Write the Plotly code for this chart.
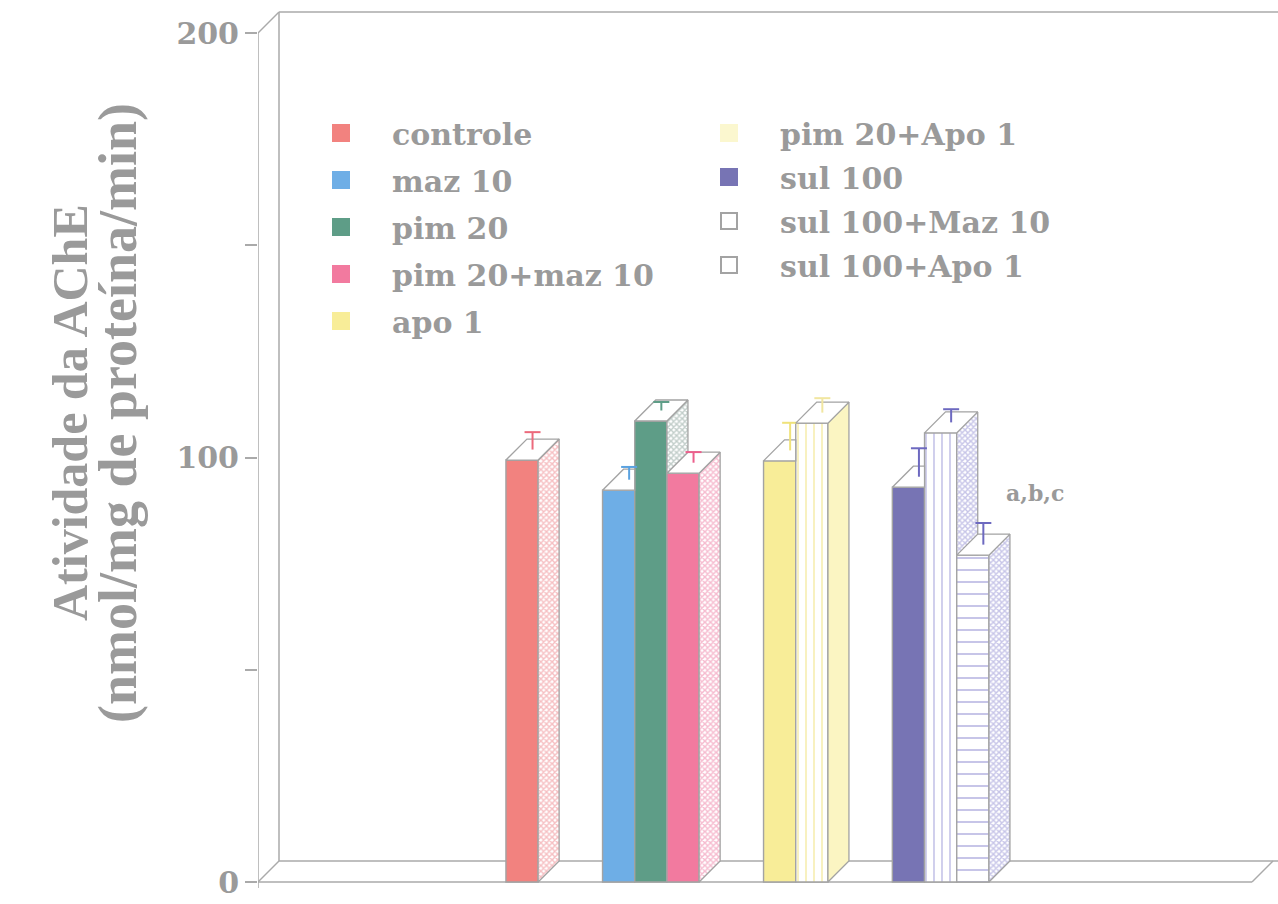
import plotly.graph_objects as go

# ---------------- data ----------------
groups = [
    ["controle"],
    ["maz 10", "pim 20", "pim 20+maz 10"],
    ["apo 1", "pim 20+Apo 1"],
    ["sul 100", "sul 100+Maz 10", "sul 100+Apo 1"],
]
values = [99.4, 92.3, 108.6, 96.3, 99.2, 108.1, 93.0, 105.8, 77.0]
errors = [4.1, 3.0, 2.0, 2.5, 6.5, 3.4, 6.7, 3.1, 5.1]
legend_col2 = ["pim 20+Apo 1", "sul 100", "sul 100+Maz 10", "sul 100+Apo 1"]
y_tick_vals = [0, 50, 100, 150, 200]
y_tick_text = ["0", "", "100", "", "200"]
y_title_1 = "Atividade da AChE"
y_title_2 = "(nmol/mg de proteína/min)"
note_text = "a,b,c"
note_bar = "sul 100+Apo 1"

# ---------------- styles ----------------
front_color = {
    "controle": "#f2827f", "maz 10": "#6eaee6", "pim 20": "#5e9d87",
    "pim 20+maz 10": "#f27a9f", "apo 1": "#f8ed98", "pim 20+Apo 1": "#ffffff",
    "sul 100": "#7774b4", "sul 100+Maz 10": "#ffffff", "sul 100+Apo 1": "#ffffff",
}
legend_color = dict(front_color)
legend_color.update({"pim 20+Apo 1": "#fbf7cf", "sul 100+Maz 10": "#ffffff", "sul 100+Apo 1": "#ffffff"})
front_pattern = {
    "pim 20+Apo 1": dict(shape="|", fgcolor="#efe070", bgcolor="#ffffff", size=8, solidity=0.22),
    "sul 100+Maz 10": dict(shape="|", fgcolor="#6d69c4", bgcolor="#ffffff", size=8, solidity=0.16),
    "sul 100+Apo 1": dict(shape="-", fgcolor="#6d69c4", bgcolor="#ffffff", size=12, solidity=0.13),
}
side_color = {
    "controle": "#ee7f86", "maz 10": "#7fb6e6", "pim 20": "#849c94",
    "pim 20+maz 10": "#ee78a0", "apo 1": "#f3e99a", "pim 20+Apo 1": None,
    "sul 100": "#8f8bd2", "sul 100+Maz 10": "#8f8bd2", "sul 100+Apo 1": "#8f8bd2",
}
err_color = {
    "controle": "#ec6a7c", "maz 10": "#5aa2e0", "pim 20": "#5e9d87",
    "pim 20+maz 10": "#ec5f8c", "apo 1": "#efe27a", "pim 20+Apo 1": "#f1e6a0",
    "sul 100": "#6d69c0", "sul 100+Maz 10": "#6d69c0", "sul 100+Apo 1": "#6d69c0",
}
EDGE = "#a3a3a3"
TEXT = "#9a9a9a"
FONT = "DejaVu Serif"
TITLE_FONT = "Liberation Serif"

# ---------------- geometry (layout constants) ----------------
W, H = 1278, 904
PLOT_L = 258
PX_PER_SLOT = 32.2
PX_PER_UNIT = 4.245
ZERO_PX = 882
DEPTH_PX = 21
GAP_SLOTS = 2
CAP_PX = 8
X0 = -8.2
X1 = X0 + (W - PLOT_L) / PX_PER_SLOT
Y0 = -(H - ZERO_PX) / PX_PER_UNIT
Y1 = ZERO_PX / PX_PER_UNIT
DX = DEPTH_PX / PX_PER_SLOT
DY = DEPTH_PX / PX_PER_UNIT
CAP = CAP_PX / PX_PER_SLOT
X_FLOOR_END = 22.67

names, slots, nxt = [], [], []
pos = 0
for g in groups:
    for k, n in enumerate(g):
        names.append(n)
        slots.append(pos)
        nxt.append(len(names) if k < len(g) - 1 else None)
        pos += 1
    pos += GAP_SLOTS

fig = go.Figure()

# front faces
for i, n in enumerate(names):
    marker = dict(color=front_color[n], line=dict(color=EDGE, width=1.4))
    if n in front_pattern:
        marker["pattern"] = front_pattern[n]
    fig.add_trace(go.Bar(
        x=[slots[i]], y=[values[i]], width=1.0, name=n, marker=marker,
        showlegend=False, hoverinfo="skip",
    ))

# side faces, top faces, error bars
for i, n in enumerate(names):
    v = values[i]
    xl, xr = slots[i] - 0.5, slots[i] + 0.5
    j = nxt[i]
    if j is not None and values[j] >= v:
        side = None
        top = ([xl, xr, xr, xl + DX, xl], [v, v, v + DY, v + DY, v])
    else:
        low = values[j] if j is not None else 0
        low_r = values[j] if j is not None else DY
        side = ([xr, xr, xr + DX, xr + DX, xr], [low, v, v + DY, low_r, low])
        top = ([xl, xr, xr + DX, xl + DX, xl], [v, v, v + DY, v + DY, v])
    if side is not None:
        sc = side_color[n]
        kw = {}
        if sc is None:
            kw["fillcolor"] = "#fbf5c2"
        else:
            kw["fillcolor"] = "#ffffff"
            kw["fillpattern"] = dict(shape="x", fgcolor=sc, bgcolor="#ffffff", size=4, solidity=0.6)
        fig.add_trace(go.Scatter(x=side[0], y=side[1], mode="lines", fill="toself",
                                 line=dict(color=EDGE, width=1.3), showlegend=False,
                                 hoverinfo="skip", **kw))
    fig.add_trace(go.Scatter(x=top[0], y=top[1], mode="lines", fill="toself",
                             fillcolor="#ffffff", line=dict(color=EDGE, width=1.3),
                             showlegend=False, hoverinfo="skip"))
    c = slots[i] + DX / 2
    b = v + DY / 2
    e = errors[i]
    fig.add_trace(go.Scatter(
        x=[c, c, None, c - CAP, c + CAP], y=[b, b + e, None, b + e, b + e],
        mode="lines", line=dict(color=err_color[n], width=2),
        showlegend=False, hoverinfo="skip",
    ))

# legend entries (one per series)
for n in names:
    fig.add_trace(go.Scatter(
        x=[None], y=[None], mode="markers", name=n,
        marker=dict(symbol="square", size=16, color=legend_color[n],
                    line=dict(color=legend_color[n] if legend_color[n] != "#ffffff" else EDGE, width=2)),
        legend="legend2" if n in legend_col2 else "legend", legendgroup=n,
    ))

# frame (box) lines
line = dict(color="#aaaaaa", width=1.5)
frame = [
    (X0, -1.4, X0, 200),
    (X0, 200, X0 + DX, 200 + DY),
    (X0 + DX, 200 + DY, X1, 200 + DY),
    (X0 + DX, DY, X0 + DX, 200 + DY),
    (X0, 0, X0 + DX, DY),
    (X0 + DX, DY, X1, DY),
    (X0 - 12 / PX_PER_SLOT, 0, X_FLOOR_END, 0),
    (X_FLOOR_END, 0, X_FLOOR_END + DX, DY),
]
for (ax, ay, bx, by) in frame:
    fig.add_shape(type="line", x0=ax, y0=ay, x1=bx, y1=by, xref="x", yref="y",
                  line=line, layer="below")

# note
k = names.index(note_bar)
fig.add_annotation(x=slots[k] + 1.93, y=values[k] + 14.6, text=note_text, showarrow=False,
                   xref="x", yref="y",
                   font=dict(family=FONT, size=22, color=TEXT, weight="bold"))

# y title (two lines)
for txt, px, sz in [(y_title_1, 70, 50), (y_title_2, 118, 54)]:
    fig.add_annotation(x=(px - PLOT_L) / (W - PLOT_L), y=(H - 413) / H, xref="paper", yref="paper",
                       text=txt, textangle=-90, showarrow=False, xanchor="center", yanchor="middle",
                       font=dict(family=TITLE_FONT, size=sz, color=TEXT, weight="bold"))

leg_font = dict(family=FONT, size=30, color=TEXT, weight="bold")
fig.update_layout(
    width=W, height=H,
    margin=dict(l=PLOT_L, r=0, t=0, b=0),
    paper_bgcolor="white", plot_bgcolor="white",
    barmode="overlay",
    showlegend=True,
    xaxis=dict(range=[X0, X1], visible=False, fixedrange=True),
    yaxis=dict(range=[Y0, Y1], tickvals=y_tick_vals, ticktext=y_tick_text,
               ticks="outside", ticklen=12, tickwidth=1.5, tickcolor="#aaaaaa",
               showgrid=False, zeroline=False, showline=False,
               tickfont=dict(family=FONT, size=30, color=TEXT, weight="bold")),
    legend=dict(x=(290 - PLOT_L) / (W - PLOT_L), y=(H - 107) / H, xanchor="left", yanchor="top",
                itemwidth=92, itemsizing="trace", font=leg_font, tracegroupgap=5,
                bgcolor="rgba(0,0,0,0)"),
    legend2=dict(x=(678 - PLOT_L) / (W - PLOT_L), y=(H - 107) / H, xanchor="left", yanchor="top",
                 itemwidth=92, itemsizing="trace", font=leg_font, tracegroupgap=2,
                 bgcolor="rgba(0,0,0,0)"),
)

fig.write_html("out.html")
